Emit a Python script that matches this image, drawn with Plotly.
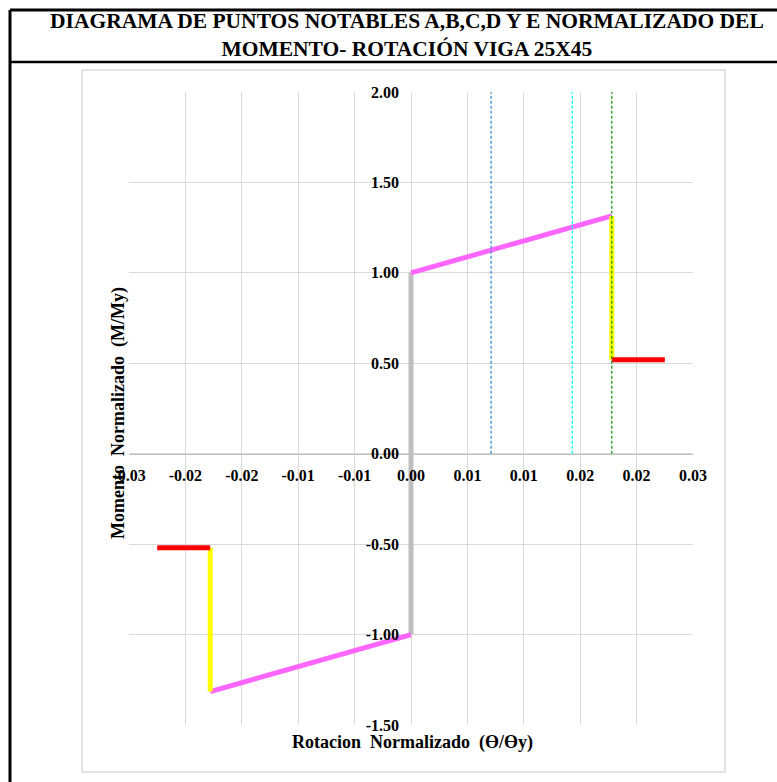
import plotly.graph_objects as go

# ---------------- data ----------------
x_tick_vals = [-0.025, -0.020, -0.015, -0.010, -0.005, 0.0, 0.005, 0.010, 0.015, 0.020, 0.025]
x_tick_text = ["-0.03", "-0.02", "-0.02", "-0.01", "-0.01", "0.00", "0.01", "0.01", "0.02", "0.02", "0.03"]
y_tick_vals = [-1.5, -1.0, -0.5, 0.0, 0.5, 1.0, 1.5, 2.0]
y_tick_text = ["-1.50", "-1.00", "-0.50", "0.00", "0.50", "1.00", "1.50", "2.00"]

# A-B (elastic), B-C (hardening), C-D (drop), D-E (residual); positive and negative branches
ab_x = [0.0, 0.0]
ab_y = [-1.00, 1.00]
bc_x = [0.0, 0.0178, None, 0.0, -0.0178]
bc_y = [1.00, 1.315, None, -1.00, -1.315]
cd_x = [0.0178, 0.0178, None, -0.0178, -0.0178]
cd_y = [1.315, 0.52, None, -1.315, -0.52]
de_x = [0.0178, 0.0225, None, -0.0178, -0.0225]
de_y = [0.52, 0.52, None, -0.52, -0.52]

# performance limits IO, LS, CP
io_x = [0.0071, 0.0071]
ls_x = [0.0143, 0.0143]
cp_x = [0.0178, 0.0178]
limit_y = [0.0, 2.0]

# ---------------- figure ----------------
W, H = 777, 782
L, R, T, B = 129, 84, 92, 57
PW, PH = W - L - R, H - T - B


def px_x(px):
    return (px - L) / PW


def px_y(py):
    return (H - B - py) / PH


serif = "Liberation Serif"

fig = go.Figure()
fig.add_trace(go.Scatter(x=ab_x, y=ab_y, mode="lines",
                         line=dict(color="#BFBFBF", width=5), showlegend=False))
fig.add_trace(go.Scatter(x=bc_x, y=bc_y, mode="lines",
                         line=dict(color="#FF66FF", width=5), showlegend=False))
fig.add_trace(go.Scatter(x=cd_x, y=cd_y, mode="lines",
                         line=dict(color="#FFFF00", width=5), showlegend=False))
fig.add_trace(go.Scatter(x=de_x, y=de_y, mode="lines",
                         line=dict(color="#FF0000", width=5), showlegend=False))
fig.add_trace(go.Scatter(x=io_x, y=limit_y, mode="lines",
                         line=dict(color="#3A8DD0", width=1.3, dash="3px,2px"), showlegend=False))
fig.add_trace(go.Scatter(x=ls_x, y=limit_y, mode="lines",
                         line=dict(color="#00FFFF", width=1.3, dash="3px,2px"), showlegend=False))
fig.add_trace(go.Scatter(x=cp_x, y=limit_y, mode="lines",
                         line=dict(color="#1E9A1E", width=1.3, dash="3px,2px"), showlegend=False))

tickfont = dict(family=serif, size=16, color="black", weight="bold")

fig.update_xaxes(range=[-0.025, 0.025], tickvals=x_tick_vals, ticktext=x_tick_text,
                 showgrid=True, gridcolor="#D9D9D9", gridwidth=1, zeroline=False,
                 anchor="free", position=1.5 / 3.5, showline=True, linecolor="#BFBFBF",
                 linewidth=1, ticks="", ticklabelstandoff=7, tickfont=tickfont)
fig.update_yaxes(range=[-1.5, 2.0], tickvals=y_tick_vals, ticktext=y_tick_text,
                 showgrid=True, gridcolor="#D9D9D9", gridwidth=1, zeroline=False,
                 anchor="free", position=0.5, showline=False, ticks="",
                 ticklabelstandoff=12, tickfont=tickfont)

shapes = [
    # outer black frame
    dict(type="line", xref="paper", yref="paper", x0=px_x(10), x1=px_x(800),
         y0=px_y(10), y1=px_y(10), line=dict(color="black", width=3)),
    dict(type="line", xref="paper", yref="paper", x0=px_x(10), x1=px_x(10),
         y0=px_y(10), y1=px_y(800), line=dict(color="black", width=3)),
    dict(type="line", xref="paper", yref="paper", x0=px_x(10), x1=px_x(800),
         y0=px_y(62), y1=px_y(62), line=dict(color="black", width=2.5)),
    # chart area box
    dict(type="rect", xref="paper", yref="paper", x0=px_x(82), x1=px_x(725),
         y0=px_y(772), y1=px_y(70), line=dict(color="#D9D9D9", width=1.5)),
]

annotations = [
    dict(text="<b>DIAGRAMA DE PUNTOS NOTABLES A,B,C,D Y E NORMALIZADO DEL<br>MOMENTO- ROTACIÓN VIGA 25X45</b>",
         xref="paper", yref="paper", x=px_x(407), y=px_y(35), showarrow=False,
         xanchor="center", yanchor="middle",
         font=dict(family=serif, size=21.5, color="black")),
    dict(text="<b>Rotacion\u00a0\u00a0Normalizado\u00a0\u00a0(Ө/Өy)</b>",
         xref="paper", yref="paper", x=px_x(412), y=px_y(742), showarrow=False,
         xanchor="center", yanchor="middle",
         font=dict(family=serif, size=18, color="black")),
    dict(text="<b>Momento\u00a0\u00a0Normalizado\u00a0\u00a0(M/My)</b>",
         xref="paper", yref="paper", x=px_x(118), y=px_y(413), showarrow=False,
         xanchor="center", yanchor="middle", textangle=-90,
         font=dict(family=serif, size=18, color="black")),
]

fig.update_layout(width=W, height=H, autosize=False,
                  margin=dict(l=L, r=R, t=T, b=B),
                  paper_bgcolor="white", plot_bgcolor="white",
                  shapes=shapes, annotations=annotations, showlegend=False)

fig.write_html("out.html")
